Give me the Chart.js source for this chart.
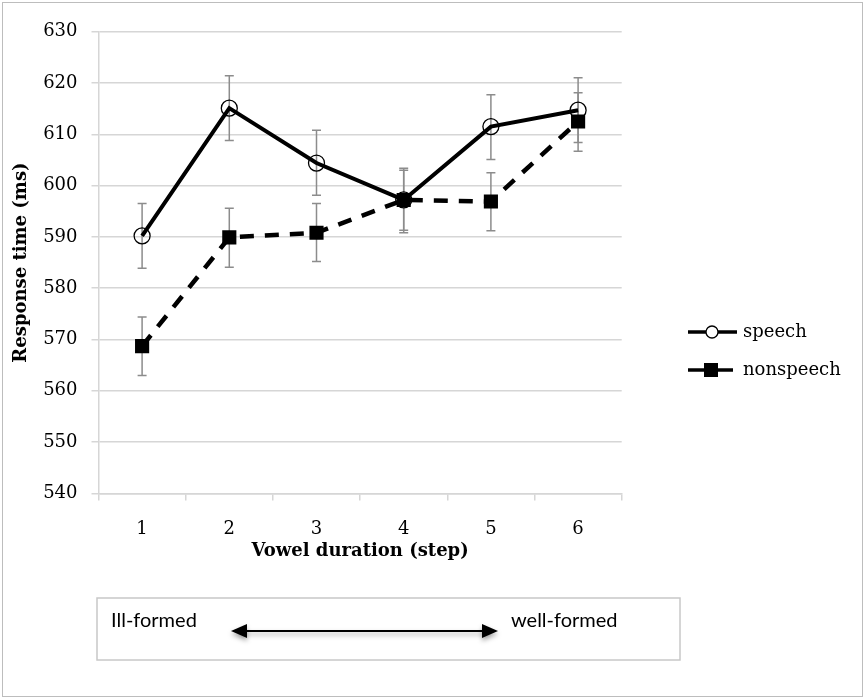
<!DOCTYPE html>
<html>
<head>
<meta charset="utf-8">
<script src="https://cdn.jsdelivr.net/npm/chart.js@4"></script>
<style>
  html, body { margin: 0; padding: 0; background: #fff; }
  #wrap { position: relative; width: 866px; height: 700px; }
</style>
</head>
<body>
<div id="wrap"><canvas id="chart"></canvas></div>
<script>
// ===== DATA =====
const steps = ['1', '2', '3', '4', '5', '6'];

const speechRT = [590.2, 615.1, 604.4, 597.2, 611.5, 614.7];
const speechLow = [583.9, 608.8, 598.1, 590.8, 605.1, 608.4];
const speechHigh = [596.5, 621.4, 610.8, 603.4, 617.7, 621.0];

const nonspeechRT = [568.7, 589.9, 590.8, 597.2, 596.9, 612.5];
const nonspeechLow = [563.0, 584.1, 585.2, 591.3, 591.2, 606.7];
const nonspeechHigh = [574.4, 595.6, 596.5, 603.0, 602.5, 618.1];

const yTicks = [540, 550, 560, 570, 580, 590, 600, 610, 620, 630];

const SERIF = '"DejaVu Serif", "Liberation Serif", serif';
const SANS = 'Lato, "Liberation Sans", Arial, sans-serif';
const GRID = '#d6d6d6';

// error bars drawn from the scales, behind the lines
const errorBars = {
  id: 'errorBars',
  beforeDatasetsDraw(chart) {
    const ctx = chart.ctx;
    const x = chart.scales.x, y = chart.scales.y;
    const sets = [[speechLow, speechHigh], [nonspeechLow, nonspeechHigh]];
    ctx.save();
    ctx.strokeStyle = '#8c8c8c';
    ctx.lineWidth = 1.5;
    for (const [lo, hi] of sets) {
      lo.forEach((v, i) => {
        const px = x.getPixelForValue(i);
        const y1 = y.getPixelForValue(v), y2 = y.getPixelForValue(hi[i]);
        ctx.beginPath();
        ctx.moveTo(px, y1); ctx.lineTo(px, y2);
        ctx.moveTo(px - 4.5, y1); ctx.lineTo(px + 4.5, y1);
        ctx.moveTo(px - 4.5, y2); ctx.lineTo(px + 4.5, y2);
        ctx.stroke();
      });
    }
    ctx.restore();
  }
};

// legend, bottom note box and frame
const decor = {
  id: 'decor',
  afterDraw(chart) {
    const ctx = chart.ctx;
    ctx.save();

    // legend
    ctx.strokeStyle = '#000';
    ctx.fillStyle = '#000';
    ctx.lineWidth = 3.5;
    ctx.beginPath(); ctx.moveTo(688, 332); ctx.lineTo(737, 332); ctx.stroke();
    ctx.fillStyle = '#fff';
    ctx.lineWidth = 1.3;
    ctx.beginPath(); ctx.arc(712, 332, 6, 0, Math.PI * 2); ctx.fill(); ctx.stroke();
    ctx.lineWidth = 3.5;
    ctx.beginPath(); ctx.moveTo(688, 370); ctx.lineTo(733, 370); ctx.stroke();
    ctx.fillStyle = '#000';
    ctx.fillRect(704, 363, 14, 14);
    ctx.font = '18px ' + SERIF;
    ctx.textBaseline = 'middle';
    ctx.textAlign = 'left';
    ctx.fillText('speech', 743, 332);
    ctx.fillText('nonspeech', 743, 370);

    // note box
    ctx.strokeStyle = '#c8c8c8';
    ctx.lineWidth = 1.5;
    ctx.strokeRect(97, 598, 583, 62);
    ctx.font = '20px ' + SANS;
    ctx.fillStyle = '#000';
    ctx.textBaseline = 'alphabetic';
    ctx.fillText('Ill-formed', 111, 626.5);
    ctx.fillText('well-formed', 511, 626.5);

    // double arrow with shadow
    ctx.shadowColor = 'rgba(0,0,0,0.35)';
    ctx.shadowBlur = 5;
    ctx.shadowOffsetY = 3;
    ctx.strokeStyle = '#000';
    ctx.lineWidth = 2;
    ctx.beginPath(); ctx.moveTo(240, 631); ctx.lineTo(488, 631); ctx.stroke();
    ctx.beginPath(); ctx.moveTo(231, 631); ctx.lineTo(247, 624); ctx.lineTo(247, 638); ctx.closePath(); ctx.fill();
    ctx.beginPath(); ctx.moveTo(498, 631); ctx.lineTo(482, 624); ctx.lineTo(482, 638); ctx.closePath(); ctx.fill();
    ctx.shadowColor = 'transparent';

    // outer frame
    ctx.strokeStyle = '#bdbdbd';
    ctx.lineWidth = 1;
    ctx.strokeRect(2.5, 2.5, 860, 694);
    ctx.restore();
  }
};

new Chart(document.getElementById('chart'), {
  type: 'line',
  data: {
    labels: steps,
    datasets: [
      {
        label: 'speech',
        data: speechRT,
        borderColor: '#000',
        borderWidth: 4,
        tension: 0,
        pointStyle: 'circle',
        pointRadius: 8,
        pointBorderWidth: 1.3,
        pointBorderColor: '#000',
        pointBackgroundColor: 'rgba(0,0,0,0)'
      },
      {
        label: 'nonspeech',
        data: nonspeechRT,
        borderColor: '#000',
        borderWidth: 4.5,
        borderDash: [14, 11],
        tension: 0,
        pointStyle: 'rect',
        pointRadius: 10,
        pointBorderWidth: 0,
        pointBackgroundColor: '#000'
      }
    ]
  },
  options: {
    responsive: true,
    maintainAspectRatio: false,
    animation: false,
    layout: { padding: { left: 0, top: 31.7, right: 244.3, bottom: 136.6 } },
    plugins: {
      legend: { display: false },
      tooltip: { enabled: false }
    },
    scales: {
      x: {
        offset: true,
        afterFit(scale) { scale.height = 70; },
        grid: { drawOnChartArea: false, drawTicks: true, tickLength: 7, color: GRID, lineWidth: 1.5, offset: true },
        border: { color: GRID, width: 1.5 },
        ticks: { color: '#000', padding: 18, font: { family: SERIF, size: 18 } },
        title: {
          display: true,
          text: 'Vowel duration (step)',
          color: '#000',
          padding: { top: 0, bottom: 1 },
          font: { family: SERIF, size: 18, weight: 'bold' }
        }
      },
      y: {
        min: 540,
        max: 630,
        afterFit(scale) { scale.width = 98.5; },
        afterBuildTicks(scale) { scale.ticks = yTicks.map(v => ({ value: v })); },
        grid: { color: GRID, lineWidth: 1.5, drawTicks: true, tickLength: 7 },
        border: { color: GRID, width: 1.5 },
        ticks: { color: '#000', padding: 14, font: { family: SERIF, size: 18 } },
        title: {
          display: true,
          text: 'Response time (ms)',
          color: '#000',
          padding: { top: 11, bottom: 0 },
          font: { family: SERIF, size: 18, weight: 'bold' }
        }
      }
    }
  },
  plugins: [errorBars, decor]
});
</script>
</body>
</html>
